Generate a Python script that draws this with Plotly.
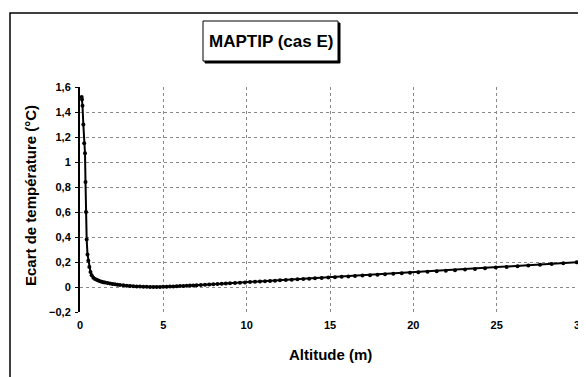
import plotly.graph_objects as go

altitude = [0.1, 0.12, 0.15, 0.2, 0.25, 0.3, 0.33, 0.36, 0.4, 0.45, 0.5, 0.56, 0.63, 0.7, 0.8, 0.9,
            1.0, 1.1, 1.2, 1.3, 1.4, 1.5, 1.65, 1.8, 1.95, 2.1, 2.25, 2.4, 2.6, 2.8, 3.0, 3.2, 3.4,
            3.6, 3.8, 4.0, 4.2, 4.4, 4.6, 4.8, 5.0, 5.2, 5.4, 5.6, 5.8, 6.0, 6.2, 6.4, 6.6, 6.8,
            7.0, 7.25, 7.5, 7.75, 8.0, 8.25, 8.5, 8.75, 9.0, 9.3, 9.6, 9.9, 10.2, 10.5, 10.8, 11.1,
            11.4, 11.7, 12.0, 12.35, 12.7, 13.05, 13.4, 13.75, 14.1, 14.5, 14.9, 15.3, 15.7, 16.1,
            16.5, 16.95, 17.4, 17.85, 18.3, 18.8, 19.3, 19.8, 20.3, 20.85, 21.4, 21.95, 22.5, 23.1,
            23.7, 24.3, 24.95, 25.6, 26.25, 26.9, 27.6, 28.3, 29.0, 29.8]
ecart = [1.52, 1.50, 1.45, 1.30, 1.15, 1.07, 0.84, 0.60, 0.38, 0.26, 0.21, 0.16, 0.12, 0.095, 0.075, 0.065,
         0.058, 0.052, 0.047, 0.043, 0.039, 0.036, 0.032, 0.028, 0.025, 0.022, 0.019, 0.017, 0.014, 0.011,
         0.009, 0.007, 0.005, 0.004, 0.003, 0.002, 0.001, 0.001, 0.001, 0.001, 0.002, 0.003, 0.004, 0.005,
         0.006, 0.008, 0.009, 0.010, 0.012, 0.013, 0.015, 0.017, 0.019, 0.021, 0.023, 0.025, 0.027, 0.029,
         0.031, 0.033, 0.035, 0.037, 0.040, 0.042, 0.044, 0.047, 0.049, 0.051, 0.054, 0.056, 0.059, 0.062,
         0.065, 0.067, 0.070, 0.073, 0.076, 0.079, 0.082, 0.085, 0.088, 0.092, 0.095, 0.099, 0.102, 0.106,
         0.110, 0.114, 0.118, 0.122, 0.127, 0.131, 0.135, 0.140, 0.145, 0.150, 0.156, 0.161, 0.167, 0.172,
         0.178, 0.184, 0.190, 0.198]

x_ticks = [0, 5, 10, 15, 20, 25, 30]
y_ticks = [-0.2, 0, 0.2, 0.4, 0.6, 0.8, 1, 1.2, 1.4, 1.6]

title_text = "MAPTIP (cas E)"
x_title = "Altitude (m)"
y_title = "Ecart de température (°C)"

OFF = 8  # browser body margin
W, H = 586 - OFF, 377 - OFF
L, R, T, B = 80 - OFF, 6, 87 - OFF, 65
pw, ph = W - L - R, H - T - B


def px(x):  # page pixel -> paper
    return (x - OFF - L) / pw


def py(y):
    return (H - B - (y - OFF)) / ph


FONT = "Liberation Sans, Arial, sans-serif"

fig = go.Figure()
fig.add_trace(go.Scatter(
    x=altitude, y=ecart, mode="lines+markers",
    line=dict(color="black", width=2),
    marker=dict(color="black", size=4),
    cliponaxis=False,
))

fig.update_layout(
    width=W, height=H,
    margin=dict(l=L, r=R, t=T, b=B, autoexpand=False),
    paper_bgcolor="white", plot_bgcolor="white",
    separators=", ",
    showlegend=False,
    font=dict(family=FONT, color="black"),
    xaxis=dict(range=[0, 30], tickvals=x_ticks, showgrid=True, gridcolor="#888",
               griddash="dot", gridwidth=1, zeroline=False, showline=False,
               tickfont=dict(size=11, weight="bold", family=FONT), ticks="",
               ticklabelstandoff=5, automargin=False, ticklabeloverflow="allow"),
    yaxis=dict(range=[-0.2, 1.6], tickvals=y_ticks, showgrid=True, gridcolor="#888",
               griddash="dot", gridwidth=1, zeroline=False, showline=True,
               linecolor="black", linewidth=2, ticks="outside", ticklen=3,
               tickcolor="black", tickfont=dict(size=11, weight="bold", family=FONT),
               ticklabelstandoff=2, automargin=False, ticklabeloverflow="allow"),
    shapes=[
        dict(type="rect", xref="paper", yref="paper",
             x0=px(10), x1=px(620), y0=py(13), y1=py(420),
             line=dict(color="black", width=1.5), fillcolor="rgba(0,0,0,0)", layer="below"),
        dict(type="rect", xref="paper", yref="paper",
             x0=px(205), x1=px(340), y0=py(63), y1=py(23),
             line=dict(color="black", width=1), fillcolor="black"),
        dict(type="rect", xref="paper", yref="paper",
             x0=px(203), x1=px(338), y0=py(61), y1=py(21),
             line=dict(color="black", width=1), fillcolor="white"),
    ],
    annotations=[
        dict(text=title_text, xref="paper", yref="paper", x=px(270.5), y=py(41),
             showarrow=False, xanchor="center", yanchor="middle",
             font=dict(size=17, weight="bold", family=FONT)),
        dict(text=x_title, xref="paper", yref="paper", x=px(330), y=py(354),
             showarrow=False, xanchor="center", yanchor="middle",
             font=dict(size=15, weight="bold", family=FONT)),
        dict(text=y_title, xref="paper", yref="paper", x=px(30), y=py(196),
             showarrow=False, xanchor="center", yanchor="middle", textangle=-90,
             font=dict(size=15, weight="bold", family=FONT)),
    ],
)

fig.write_html("out.html")
